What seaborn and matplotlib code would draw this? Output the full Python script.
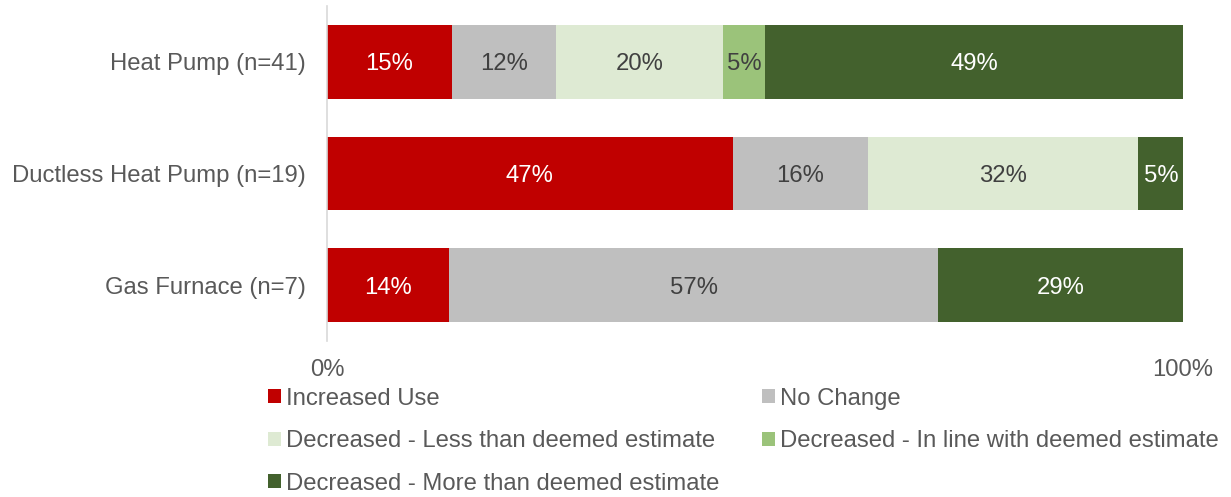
import numpy as np
import pandas as pd
import matplotlib
matplotlib.use("Agg")
import matplotlib.pyplot as plt
from matplotlib.patches import Patch
import seaborn as sns

# Share of participants by change in energy use, per equipment type (percent)
categories = ["Heat Pump (n=41)", "Ductless Heat Pump (n=19)", "Gas Furnace (n=7)"]
series_names = [
    "Increased Use",
    "No Change",
    "Decreased - Less than deemed estimate",
    "Decreased - In line with deemed estimate",
    "Decreased - More than deemed estimate",
]
increased_use = [14.6, 47.4, 14.3]
no_change = [12.2, 15.8, 57.1]
decreased_less = [19.5, 31.6, 0.0]
decreased_in_line = [4.9, 0.0, 0.0]
decreased_more = [48.8, 5.3, 28.6]

colors = ["#C00000", "#BFBFBF", "#DEEAD3", "#9BC37A", "#43612D"]
label_colors = ["white", "#404040", "#404040", "#404040", "white"]

sns.set_theme(style="white")
plt.rcParams["font.family"] = ["Liberation Sans", "DejaVu Sans"]

FS = 17.2

values = np.array([increased_use, no_change, decreased_less,
                   decreased_in_line, decreased_more])
cum = values.cumsum(axis=0)

fig = plt.figure(figsize=(12.31, 4.97), dpi=100)
ax = fig.add_axes([0.2656, 0.3139, 0.6954, 0.6741])

# Stacked bars: draw cumulative totals from the outermost segment inward
for i in range(len(series_names) - 1, -1, -1):
    df = pd.DataFrame({"category": categories, "end": cum[i]})
    sns.barplot(data=df, x="end", y="category", color=colors[i],
                saturation=1, width=0.66, linewidth=0, ax=ax,
                order=categories)

# Value labels centred in each segment
for i in range(len(series_names)):
    for j, cat in enumerate(categories):
        v = values[i, j]
        if v <= 0:
            continue
        ax.text(cum[i, j] - v / 2, j, f"{v:.0f}%", ha="center",
                va="center_baseline", color=label_colors[i], fontsize=FS)

ax.set_xlim(0, 100)
ax.set_xticks([0, 100])
ax.set_xticklabels(["0%", "100%"])
ax.set_xlabel("")
ax.set_ylabel("")
ax.tick_params(axis="x", length=0, pad=13, labelsize=FS, labelcolor="#595959")
ax.tick_params(axis="y", length=0, pad=15, labelsize=FS, labelcolor="#595959")
for side in ["top", "right", "bottom"]:
    ax.spines[side].set_visible(False)
ax.spines["left"].set_color("#D9D9D9")
ax.spines["left"].set_linewidth(1.2)

# Legend, two columns filled row by row
order = [0, 2, 4, 1, 3]
handles = [Patch(facecolor=colors[k], edgecolor="none") for k in order]
labels = [series_names[k] for k in order]
fig.legend(handles, labels, ncol=2, loc="upper left",
           bbox_to_anchor=(0.218, 0.220), frameon=False,
           fontsize=FS, labelcolor="#595959",
           handlelength=0.55, handleheight=0.55, handletextpad=0.2,
           columnspacing=1.78, labelspacing=0.86, borderpad=0,
           borderaxespad=0)

fig.savefig("out.png", dpi=100)
